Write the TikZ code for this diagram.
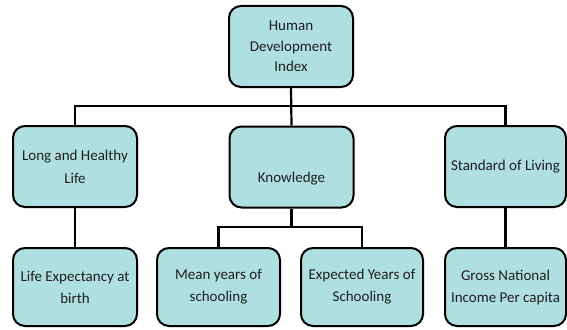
\documentclass[tikz,border=0pt]{standalone}
\usepackage{fontspec}
\setmainfont{Carlito}
\definecolor{boxfill}{RGB}{176,223,226}
\definecolor{txt}{RGB}{30,30,30}
\begin{document}
\begin{tikzpicture}[x=1pt,y=-1pt,
  box/.style={draw=black, line width=2pt, fill=boxfill, rounded corners=12pt,
    minimum width=#1, minimum height=81pt, inner sep=1pt, align=center,
    text=txt, font=\fontsize{15}{23}\selectfont},
  box/.default=124pt,
  link/.style={draw=black, line width=2.2pt}]
\useasboundingbox (0,0) rectangle (567,329);
\node[box, font=\fontsize{15}{20.5}\selectfont] (hdi) at (291,46.5) {Human\\Development\\Index};
\node[box] (lhl) at (75,166.5) {Long and Healthy\\Life};
\node[box] (know) at (291.5,167) {\raisebox{-15pt}[0pt][0pt]{Knowledge}};
\node[box=121pt] (sol) at (505.5,166.5) {Standard of Living};
\node[box, minimum height=78pt, font=\fontsize{15}{22}\selectfont] (le) at (75,287) {Life Expectancy at\\birth};
\node[box, minimum height=78pt, minimum width=123pt, font=\fontsize{15}{22}\selectfont] (mean) at (218.5,287) {Mean years of\\schooling};
\node[box, minimum height=78pt, minimum width=122pt, font=\fontsize{15}{22}\selectfont] (exp) at (362,287) {Expected Years of\\Schooling};
\node[box=121pt, minimum height=78pt, font=\fontsize{15}{22}\selectfont] (gni) at (505.5,287) {Gross National\\Income Per capita};
\coordinate (bus) at (0,106);
\coordinate (kbus) at (0,227);
\draw[link] (hdi.south) -- (know.north);
\draw[link] (lhl.north) -- (lhl.north |- bus) -- (sol.north |- bus) -- (sol.north);
\draw[link] (lhl.south) -- (le.north);
\draw[link] (sol.south) -- (gni.north);
\draw[link] (know.south) -- (know.south |- kbus);
\draw[link] (mean.north) -- (mean.north |- kbus) -- (exp.north |- kbus) -- (exp.north);
\end{tikzpicture}
\end{document}
